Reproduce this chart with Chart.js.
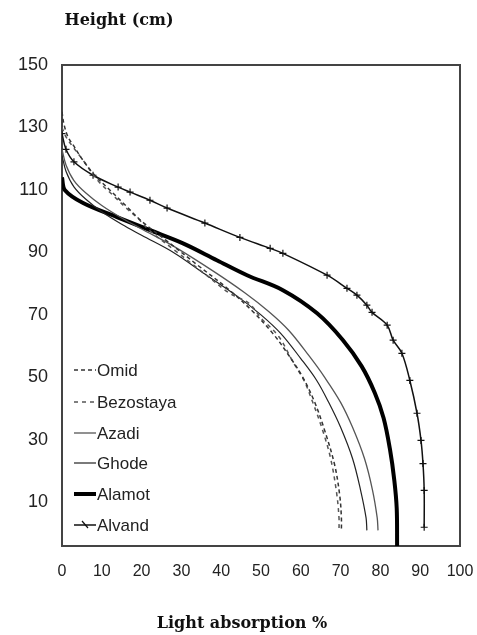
<!DOCTYPE html>
<html>
<head>
<meta charset="utf-8">
<script src="https://cdn.jsdelivr.net/npm/chart.js@4"></script>
<style>
  html, body { margin: 0; padding: 0; background: #fff; }
  #wrap { width: 477px; height: 635px; position: relative; }
</style>
</head>
<body>
<div id="wrap"><canvas id="chart"></canvas></div>
<script>
// values: light absorption (%) against plant height (cm)
const yTicks = [10, 30, 50, 70, 90, 110, 130, 150];
const xTicks = [0, 10, 20, 30, 40, 50, 60, 70, 80, 90, 100];

const omidX = [0, 0.5, 1.5, 3, 5, 8, 12, 16, 20, 26, 34, 42, 48, 53, 57, 60.5, 63.5, 66, 68.5, 69.8, 70.2, 70.2];
const omidY = [135, 131, 127, 124, 120, 115, 110, 105, 100, 94, 86, 78, 71, 64, 57, 50, 42, 33, 22, 12, 5, 1];

const bezostayaX = [0, 1, 2.8, 5.3, 9, 12.8, 16.3, 19, 22, 29, 36, 42, 47, 50, 54.5, 58, 60.8, 63, 65.5, 67.5, 69, 69.6, 69.6];
const bezostayaY = [130, 127, 123.7, 119.5, 113, 108.3, 104, 101, 97, 90, 83, 77, 73.7, 69, 63, 55, 49, 42, 33, 24, 13, 5, 1];

const azadiX = [0, 1, 3, 6, 10, 15, 20, 28, 38, 46, 52, 57, 62, 66, 70, 73, 76, 78, 79.2, 79.4];
const azadiY = [123, 118, 113, 109, 105, 101, 97.5, 92, 84, 77, 71, 65, 57, 50, 42, 34, 24, 14, 5, 1];

const ghodeX = [0, 1, 3, 6, 10, 15, 20, 28, 36, 44, 50, 55, 60, 64, 67, 70, 73, 75, 76.4, 76.6];
const ghodeY = [121, 116, 111, 107, 103, 99, 95.5, 90, 83, 76, 70, 64, 56, 49, 42, 34, 24, 14, 5, 1];

const alamotX = [0, 0.75, 5.3, 13.8, 22.1, 30.4, 38.9, 46.5, 55.5, 64.1, 70.6, 75.3, 78.6, 80.8, 82.4, 83.5, 84.1, 84.2];
const alamotY = [114, 109.9, 105.8, 101.3, 97.1, 92.9, 87.5, 82.7, 77.9, 70.5, 61.9, 53.5, 45, 37, 27, 17, 8, -4];

const alvandX = [0, 1, 3, 7.8, 14.1, 17.1, 22.1, 26.4, 35.9, 44.7, 52.3, 55.5, 66.6, 71.6, 74.1, 76.6, 77.9, 81.7, 83.2, 85.4, 87.4, 89.2, 90.2, 90.7, 91, 91];
const alvandY = [128, 123, 119, 114.7, 110.9, 109.3, 106.7, 104.2, 99.4, 94.8, 91.3, 89.7, 82.7, 78.5, 76.3, 73.1, 70.8, 66.7, 61.9, 57.7, 49, 38.5, 29.8, 22.4, 13.8, 2];

const pts = (xs, ys) => xs.map((x, i) => ({ x, y: ys[i] }));

const series = [
    { label: 'Omid', data: pts(omidX, omidY), borderColor: '#333', borderWidth: 1.5, borderDash: [4, 3] },
    { label: 'Bezostaya', data: pts(bezostayaX, bezostayaY), borderColor: '#555', borderWidth: 1.5, borderDash: [4, 4] },
    { label: 'Azadi', data: pts(azadiX, azadiY), borderColor: '#555', borderWidth: 1.3 },
    { label: 'Ghode', data: pts(ghodeX, ghodeY), borderColor: '#222', borderWidth: 1.2 },
    { label: 'Alamot', data: pts(alamotX, alamotY), borderColor: '#000', borderWidth: 4 },
    { label: 'Alvand', data: pts(alvandX, alvandY), borderColor: '#111', borderWidth: 1.5,
      pointRadius: 3.5, pointStyle: 'cross', pointBorderColor: '#111', pointBorderWidth: 1.2 }
];

// plot frame, the two axis titles and the legend inside the plot
const decorations = {
    id: 'decorations',
    beforeDatasetsDraw(chart) {
        const { ctx, chartArea: a } = chart;
        ctx.save();
        ctx.strokeStyle = '#444';
        ctx.lineWidth = 2;
        ctx.strokeRect(a.left, a.top, a.right - a.left, a.bottom - a.top);
        ctx.restore();
    },
    afterDraw(chart) {
        const { ctx } = chart;
        ctx.save();
        ctx.fillStyle = '#111';
        ctx.textBaseline = 'middle';
        ctx.textAlign = 'center';
        ctx.font = 'bold 16px "DejaVu Serif"';
        ctx.fillText('Height (cm)', 119, 21);
        ctx.fillText('Light absorption %', 242, 624);

        ctx.textAlign = 'left';
        ctx.font = '17px "Liberation Sans"';
        const rows = [370, 402, 433, 463, 494, 525];
        chart.data.datasets.forEach((ds, i) => {
            const y = rows[i];
            ctx.save();
            ctx.strokeStyle = ds.borderColor;
            ctx.lineWidth = ds.borderWidth;
            ctx.setLineDash(ds.borderDash || []);
            ctx.beginPath();
            ctx.moveTo(74, y);
            ctx.lineTo(96, y);
            ctx.stroke();
            if (ds.pointStyle) {
                ctx.setLineDash([]);
                ctx.lineWidth = 1.2;
                ctx.beginPath();
                ctx.moveTo(82, y - 4); ctx.lineTo(88, y + 3);
                ctx.stroke();
            }
            ctx.restore();
            ctx.fillStyle = '#222';
            ctx.fillText(ds.label, 97, y + 1);
        });
        ctx.restore();
    }
};

const ctx = document.getElementById('chart').getContext('2d');
new Chart(ctx, {
    type: 'scatter',
    data: {
        datasets: series.map(s => ({
            pointRadius: 0,
            showLine: true,
            tension: 0.35,
            fill: false,
            ...s
        }))
    },
    options: {
        responsive: true,
        maintainAspectRatio: false,
        animation: false,
        layout: { padding: { top: 65, right: 17, left: 0, bottom: 0 } },
        plugins: {
            legend: { display: false },
            tooltip: { enabled: false }
        },
        scales: {
            x: {
                type: 'linear',
                min: 0,
                max: 100,
                grid: { display: false, drawTicks: false },
                border: { display: false },
                afterBuildTicks: s => { s.ticks = xTicks.map(v => ({ value: v })); },
                afterFit: s => { s.height = 89; s.paddingLeft = 0; s.paddingRight = 0; },
                ticks: {
                    color: '#222',
                    padding: 16,
                    maxRotation: 0,
                    autoSkip: false,
                    font: { family: 'Liberation Sans', size: 16 }
                }
            },
            y: {
                type: 'linear',
                min: -4,
                max: 150,
                grid: { display: false, drawTicks: false },
                border: { display: false },
                afterBuildTicks: s => { s.ticks = yTicks.map(v => ({ value: v })); },
                afterFit: s => { s.width = 62; s.paddingTop = 0; s.paddingBottom = 0; },
                ticks: {
                    color: '#222',
                    padding: 14,
                    autoSkip: false,
                    font: { family: 'Liberation Sans', size: 18 }
                }
            }
        }
    },
    plugins: [decorations]
});
</script>
</body>
</html>
